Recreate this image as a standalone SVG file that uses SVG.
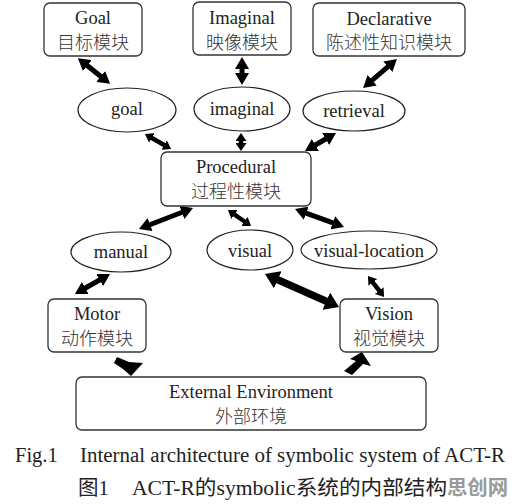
<svg xmlns="http://www.w3.org/2000/svg" width="514" height="504" viewBox="0 0 514 504">
<defs>
<style>
.box{fill:#fff;stroke:#333;stroke-width:1.3}
.ell{fill:#fff;stroke:#222;stroke-width:1.2}
.en{font-family:"Liberation Serif","Noto Sans CJK SC",serif;font-size:18.5px;fill:#222;text-anchor:middle}
.zh{font-family:"Noto Sans CJK SC",sans-serif;font-size:18px;font-weight:300;fill:#333;text-anchor:middle}
.cap{font-family:"Liberation Serif","Noto Sans CJK SC",serif;font-size:20.5px;fill:#222}
.conn{stroke:#000;stroke-width:5;fill:none}
.thin{stroke:#000;stroke-width:4.5;fill:none}
.fat{stroke:#000;stroke-width:7.5;fill:none}
</style>
<marker id="hb" viewBox="0 0 12 14" markerWidth="12" markerHeight="14" refX="1" refY="7" orient="auto-start-reverse" markerUnits="userSpaceOnUse"><path d="M0,0 L12,7 L0,14 Z" fill="#000"/></marker>
<marker id="hs" viewBox="0 0 8 11" markerWidth="8" markerHeight="11" refX="1" refY="5.5" orient="auto-start-reverse" markerUnits="userSpaceOnUse"><path d="M0,0 L8,5.5 L0,11 Z" fill="#000"/></marker>
<marker id="hf" viewBox="0 0 14 19" markerWidth="14" markerHeight="19" refX="1" refY="9.5" orient="auto-start-reverse" markerUnits="userSpaceOnUse"><path d="M0,0 L14,9.5 L0,19 Z" fill="#000"/></marker>
</defs>
<rect width="514" height="504" fill="#fff"/>

<g id="connectors">
<line class="conn" x1="86.5" y1="65" x2="101.5" y2="77" marker-start="url(#hb)" marker-end="url(#hb)"/>
<line class="conn" x1="242" y1="68" x2="242" y2="74" marker-start="url(#hb)" marker-end="url(#hb)"/>
<line class="conn" x1="388.6" y1="66.1" x2="371.4" y2="80.9" marker-start="url(#hb)" marker-end="url(#hb)"/>
<line class="thin" x1="151" y1="137.5" x2="165" y2="145.5" marker-start="url(#hs)" marker-end="url(#hs)"/>
<line class="thin" x1="241" y1="140" x2="241" y2="144" marker-start="url(#hs)" marker-end="url(#hs)"/>
<line class="conn" x1="326.5" y1="138.5" x2="314.5" y2="145.5" marker-start="url(#hb)" marker-end="url(#hb)"/>
<line class="conn" x1="182.8" y1="212" x2="149.2" y2="225" marker-start="url(#hb)" marker-end="url(#hb)"/>
<line class="thin" x1="233.7" y1="214" x2="245.3" y2="222" marker-start="url(#hs)" marker-end="url(#hs)"/>
<line class="conn" x1="305.3" y1="212.8" x2="333.7" y2="223.2" marker-start="url(#hb)" marker-end="url(#hb)"/>
<line class="conn" x1="100.5" y1="279.5" x2="84.5" y2="288.5" marker-start="url(#hb)" marker-end="url(#hb)"/>
<line class="fat" x1="276.9" y1="279.3" x2="327.1" y2="301.7" marker-start="url(#hf)" marker-end="url(#hf)"/>
<line class="thin" x1="372.2" y1="281.6" x2="379.8" y2="291.4" marker-start="url(#hs)" marker-end="url(#hs)"/>
<path d="M117,357 L129,362 L143,363 L131,376 L123,369 L114,363 Z" fill="#000"/>
<path d="M344,371 L356,361 L350,359 L362,352 L371,366 L363,364 L352,375 Z" fill="#000"/>
</g>

<g id="goal-module">
<rect class="box" x="44" y="3" width="98" height="53" rx="6"/>
<text class="en" x="93" y="24">Goal</text>
<text class="zh" x="93" y="49">目标模块</text>
</g>
<g id="imaginal-module">
<rect class="box" x="193" y="2" width="98" height="53" rx="6"/>
<text class="en" x="242" y="24">Imaginal</text>
<text class="zh" x="242" y="49">映像模块</text>
</g>
<g id="declarative-module">
<rect class="box" x="313" y="3" width="152" height="53" rx="6"/>
<text class="en" x="389" y="25">Declarative</text>
<text class="zh" x="389" y="49">陈述性知识模块</text>
</g>

<g id="goal-buffer">
<ellipse class="ell" cx="127" cy="110" rx="49" ry="22"/>
<text class="en" x="127" y="115">goal</text>
</g>
<g id="imaginal-buffer">
<ellipse class="ell" cx="242" cy="109" rx="48" ry="22"/>
<text class="en" x="242" y="115">imaginal</text>
</g>
<g id="retrieval-buffer">
<ellipse class="ell" cx="354" cy="111" rx="51" ry="20"/>
<text class="en" x="354" y="117">retrieval</text>
</g>

<g id="procedural-module">
<rect class="box" x="161" y="152" width="150" height="54" rx="6"/>
<text class="en" x="236" y="173">Procedural</text>
<text class="zh" x="236" y="198">过程性模块</text>
</g>

<g id="manual-buffer">
<ellipse class="ell" cx="121" cy="252" rx="50" ry="20"/>
<text class="en" x="121" y="258">manual</text>
</g>
<g id="visual-buffer">
<ellipse class="ell" cx="250" cy="250" rx="43" ry="20"/>
<text class="en" x="250" y="257">visual</text>
</g>
<g id="visual-location-buffer">
<ellipse class="ell" cx="369" cy="250" rx="68" ry="19"/>
<text class="en" x="369" y="257">visual-location</text>
</g>

<g id="motor-module">
<rect class="box" x="48" y="299" width="98" height="53" rx="6"/>
<text class="en" x="97" y="320">Motor</text>
<text class="zh" x="97" y="345">动作模块</text>
</g>
<g id="vision-module">
<rect class="box" x="340" y="299" width="98" height="53" rx="6"/>
<text class="en" x="389" y="320">Vision</text>
<text class="zh" x="389" y="345">视觉模块</text>
</g>

<g id="external-environment">
<rect class="box" x="76" y="377" width="350" height="53" rx="6"/>
<text class="en" x="251" y="398">External Environment</text>
<text class="zh" x="251" y="423">外部环境</text>
</g>

<g id="caption">
<text class="cap" x="15" y="462">Fig.1</text>
<text class="cap" x="80" y="462" textLength="425" lengthAdjust="spacingAndGlyphs">Internal architecture of symbolic system of ACT-R</text>
<text class="cap" x="78" y="495">图1</text>
<text class="cap" x="132" y="495" textLength="315" lengthAdjust="spacingAndGlyphs">ACT-R的symbolic系统的内部结构</text>
<text x="447" y="495" font-family="'Noto Sans CJK SC',sans-serif" font-size="20" font-weight="bold" fill="#9a9a9a" textLength="61" lengthAdjust="spacingAndGlyphs">思创网</text>
</g>
</svg>
